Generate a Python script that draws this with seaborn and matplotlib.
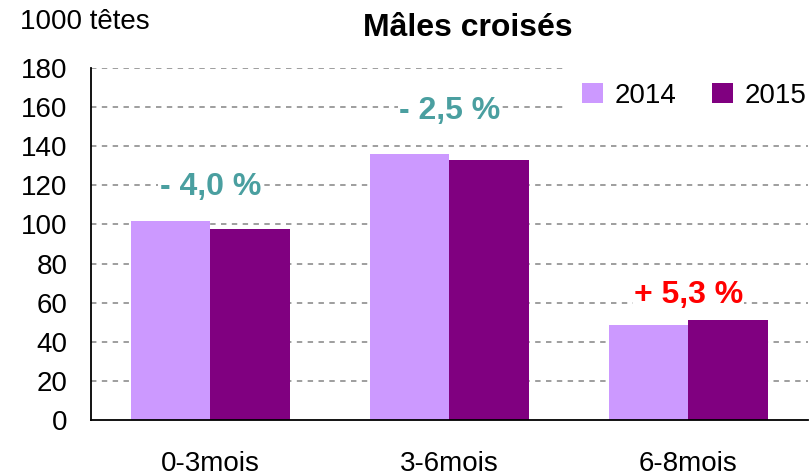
import numpy as np
import pandas as pd
import matplotlib
matplotlib.use("Agg")
import matplotlib.pyplot as plt
import seaborn as sns

# données (1000 têtes)
categories = ["0-3mois", "3-6mois", "6-8mois"]
years = ["2014", "2015"]
values_2014 = [101.7, 136.0, 48.6]
values_2015 = [97.6, 133.0, 51.0]
variations = ["- 4,0 %", "- 2,5 %", "+ 5,3 %"]
var_colors = ["#4A9FA0", "#4A9FA0", "#FF0000"]
var_heights = [119, 158, 64]
y_ticks = list(range(0, 181, 20))

df = pd.DataFrame({
    "classe": categories * 2,
    "annee": [years[0]] * 3 + [years[1]] * 3,
    "tetes": values_2014 + values_2015,
})

sns.set_style("white")
plt.rcParams["font.family"] = ["Liberation Sans", "DejaVu Sans"]
plt.rcParams["text.color"] = "black"
plt.rcParams["xtick.color"] = "black"
plt.rcParams["ytick.color"] = "black"

fig = plt.figure(figsize=(8.1, 4.75), dpi=100)
ax = fig.add_axes([0.1123, 0.1158, 0.8852, 0.7412])

sns.barplot(data=df, x="classe", y="tetes", hue="annee",
            palette=["#CC99FF", "#800080"], width=0.665,
            saturation=1, edgecolor="none", linewidth=0, ax=ax, zorder=2)

ax.set_xlim(-0.5, 2.5)
ax.set_ylim(0, 180)
ax.set_yticks(y_ticks)
ax.yaxis.grid(True, color="#969696", linestyle=(0, (3, 3)), linewidth=1.3, zorder=0)
for gl in ax.get_ygridlines()[:1]:
    gl.set_visible(False)
ax.set_axisbelow(True)

ax.set_xlabel("")
ax.set_ylabel("")
ax.set_xticks(range(len(categories)))
ax.set_xticklabels(categories)
ax.set_xticks([-0.5, 0.5, 1.5, 2.5], minor=True)
ax.tick_params(axis="x", which="major", length=0, pad=22, labelsize=20)
ax.tick_params(axis="x", which="minor", length=7, width=1.3, color="black", direction="out")
ax.tick_params(axis="y", length=7, width=1.3, color="black", direction="out", pad=10, labelsize=20)

for side in ["top", "right"]:
    ax.spines[side].set_visible(False)
for side in ["left", "bottom"]:
    ax.spines[side].set_color("black")
    ax.spines[side].set_linewidth(1.3)

# variations 2015/2014
for i, (txt, col) in enumerate(zip(variations, var_colors)):
    ax.text(i, var_heights[i], txt, ha="center", va="center", color=col,
            fontsize=23, fontweight="bold", zorder=3,
            bbox=dict(facecolor="white", edgecolor="none", pad=1))

leg = ax.legend(loc="upper right", bbox_to_anchor=(1.04, 1.045), ncol=2, frameon=True,
                fontsize=20, handlelength=0.75, handleheight=0.75, handletextpad=0.4,
                columnspacing=1.3, borderpad=0.6)
leg.get_frame().set_facecolor("white")
leg.get_frame().set_edgecolor("none")
leg.get_frame().set_alpha(1)

fig.text(0.025, 0.954, "1000 têtes", fontsize=20, ha="left", va="center")
fig.text(0.578, 0.941, "Mâles croisés", fontsize=23, fontweight="bold", ha="center", va="center")

fig.savefig("out.png", dpi=100)
